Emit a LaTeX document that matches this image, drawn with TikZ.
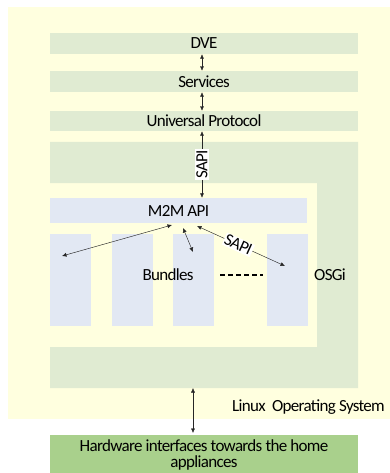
\documentclass[tikz,border=0pt]{standalone}
\usepackage{fontspec}
\setmainfont{Carlito}[LetterSpace=-4.0]
\usetikzlibrary{arrows.meta}
\definecolor{bgYellow}{HTML}{FFFFDF}
\definecolor{barGreen}{HTML}{E0EBD2}
\definecolor{colBlue}{HTML}{E2E8F3}
\definecolor{hwGreen}{HTML}{A9D08C}
\tikzset{
  bar/.style={fill=barGreen, minimum width=308pt, minimum height=21pt, inner sep=0pt},
  apibar/.style={fill=colBlue, minimum width=257pt, minimum height=25pt, inner sep=0pt},
  bundlecol/.style={fill=colBlue, minimum width=41pt, minimum height=92pt, inner sep=0pt},
  hwbox/.style={fill=hwGreen, minimum width=308pt, minimum height=40pt, inner sep=0pt, align=center},
  lbl/.style={inner sep=0pt},
  link/.style={draw=black!85, line width=0.45pt, {Latex[length=4.5pt,width=4pt]}-{Latex[length=4.5pt,width=4pt]}},
  tag/.style={fill=white, inner sep=1pt},
}
\begin{document}
\begin{tikzpicture}[x=1pt, y=-1pt, font=\fontsize{17}{16}\selectfont]
\useasboundingbox (0,0) rectangle (390,473);
% outer Linux area
\fill[bgYellow] (8,7) rectangle (392,419);
% OSGi frame
\fill[barGreen] (50,142) -- (358,142) -- (358,388) -- (50,388) -- (50,347)
  -- (317,347) -- (317,183) -- (50,183) -- cycle;

% layer bars
\node[bar] (dve) at (204,43.5) {DVE};
\node[bar] (services) at (204,81.5) {Services};
\node[bar, minimum height=20pt] (uproto) at (204,121) {Universal Protocol};
\node[apibar] (m2m) at (178.5,210.5) {M2M API};

% bundle columns
\node[bundlecol] (b1) at (70.5,280) {};
\node[bundlecol] (b2) at (132.5,280) {};
\node[bundlecol] (b3) at (193.5,280) {};
\node[bundlecol] (b4) at (287,280) {};

% labels
\node[lbl] (bundles) at (168,275) {Bundles};
\node[lbl] (osgi) at (330,275) {OSGi};
\node[lbl, anchor=west] (linux) at (232,407) {Linux\ \ Operating System};
\node[hwbox] (hw) at (204,455) {Hardware interfaces towards the home\\appliances};

% arrow end points
\coordinate (m1) at (172,225);
\coordinate (m2) at (183,228);
\coordinate (m3) at (197,226);
\coordinate (e1) at (62,256);
\coordinate (e2) at (193,252);
\coordinate (e3) at (285,266);
\coordinate (osTop) at (193,388);
\coordinate (hwTop) at (193,433);

% connectors
\draw[link] ([xshift=-2pt]dve.south) -- ([xshift=-2pt]services.north);
\draw[link] ([xshift=-2pt]services.south) -- ([xshift=-2pt]uproto.north);
\draw[link] ([xshift=-2pt]uproto.south) -- ([xshift=-2pt]uproto.south |- m2m.north)
  node[tag, midway, rotate=90] {SAPI};
\draw[link] (m1) -- (e1);
\draw[link] (m2) -- (e2);
\draw[link] (m3) -- (e3) node[tag, pos=0.47, sloped] {SAPI};
\draw[line width=1.6pt, dash pattern=on 5pt off 3pt] (220,275) -- (263,275);
\draw[link] (osTop) -- (hwTop);
\end{tikzpicture}
\end{document}
